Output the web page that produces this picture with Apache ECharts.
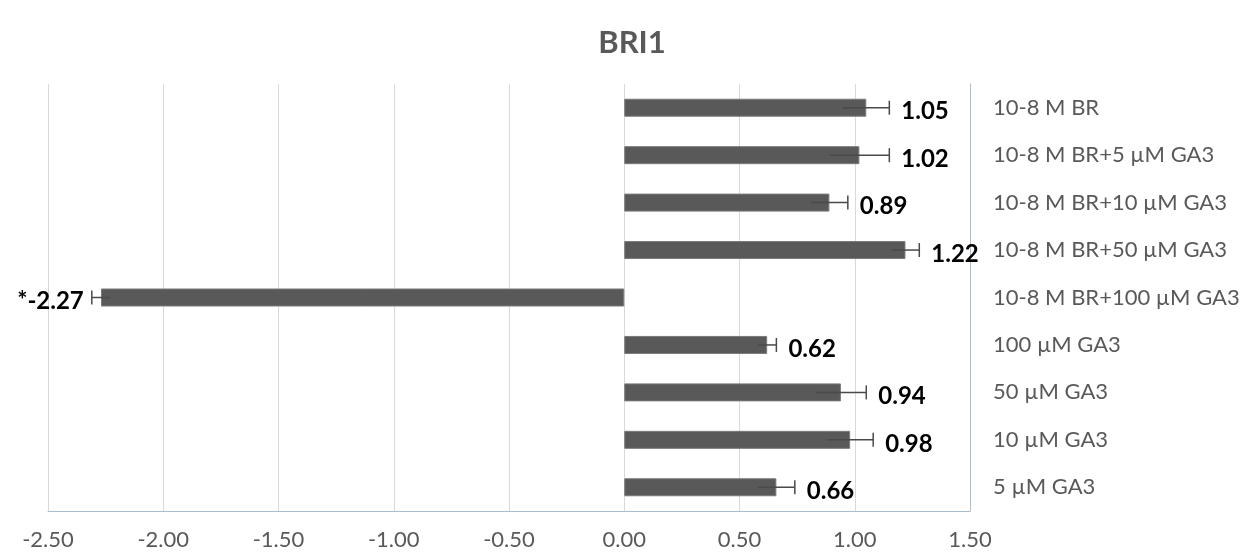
<!DOCTYPE html>
<html>
<head>
    <meta charset="utf-8">
    <title>BRI1</title>
    <script src="https://cdn.jsdelivr.net/npm/echarts@6/dist/echarts.min.js"></script>
    <style>
        html, body { margin: 0; padding: 0; background: #fff; }
    </style>
</head>
<body>
<div id="chart1" style="width: 1259px; height: 553px;"></div>
<script>
    // treatments, top to bottom
    var categories = ['10-8 M BR', '10-8 M BR+5 \u00b5M GA3', '10-8 M BR+10 \u00b5M GA3', '10-8 M BR+50 \u00b5M GA3',
        '10-8 M BR+100 \u00b5M GA3', '100 \u00b5M GA3', '50 \u00b5M GA3', '10 \u00b5M GA3', '5 \u00b5M GA3'];
    var values = [1.05, 1.02, 0.89, 1.22, -2.27, 0.62, 0.94, 0.98, 0.66];
    var errors = [0.10, 0.13, 0.08, 0.06, 0.04, 0.04, 0.11, 0.10, 0.08];
    var marks = ['', '', '', '', '*', '', '', '', ''];
    var axisMin = -2.5, axisMax = 1.5, axisStep = 0.5;

    var errData = values.map(function (v, i) {
        return [v, i, errors[i]];
    });

    var Mychart1 = echarts.init(document.getElementById('chart1'));
    var option1 = {
        animation: false,
        title: {
            text: 'BRI1',
            left: 627,
            top: 22,
            textAlign: 'center',
            textStyle: {fontFamily: 'Lato', fontSize: 31, fontWeight: 'bold', color: '#595959'}
        },
        grid: {left: 48, right: 289, top: 84, bottom: 42},
        xAxis: {
            type: 'value',
            min: axisMin,
            max: axisMax,
            interval: axisStep,
            axisLine: {show: true, onZero: false, lineStyle: {color: '#a9bfcf', width: 1}},
            axisTick: {show: false},
            splitLine: {show: true, lineStyle: {color: '#d9d9d9'}},
            axisLabel: {
                margin: 18,
                fontFamily: 'Lato',
                fontSize: 22,
                color: '#595959',
                formatter: function (v) { return v.toFixed(2); }
            }
        },
        yAxis: {
            type: 'category',
            position: 'right',
            inverse: true,
            data: categories,
            axisLine: {show: true, onZero: false, lineStyle: {color: '#a9bfcf', width: 1}},
            axisTick: {show: false},
            axisLabel: {
                margin: 23,
                align: 'left',
                fontFamily: 'Lato',
                fontSize: 22,
                color: '#595959'
            }
        },
        series: [
            {
                type: 'bar',
                data: values,
                barWidth: 18,
                itemStyle: {color: '#595959', borderColor: '#7a7a7a', borderWidth: 1}
            },
            {
                type: 'custom',
                data: errData,
                encode: {x: 0, y: 1},
                z: 5,
                renderItem: function (params, api) {
                    var v = api.value(0), i = api.value(1), e = api.value(2);
                    var neg = v < 0;
                    var outer = neg ? v - e : v + e;
                    var inner = neg ? v + e : v - e;
                    var pO = api.coord([outer, i]);
                    var pI = api.coord([inner, i]);
                    var y = pO[1];
                    var txt = marks[i] + v.toFixed(2);
                    return {
                        type: 'group',
                        children: [
                            {type: 'line', shape: {x1: pI[0], y1: y, x2: pO[0], y2: y},
                                style: {stroke: '#4a4a4a', lineWidth: 1.5}},
                            {type: 'line', shape: {x1: pO[0], y1: y - 7, x2: pO[0], y2: y + 7},
                                style: {stroke: '#4a4a4a', lineWidth: 1.5}},
                            {type: 'text', x: neg ? pO[0] - 8 : pO[0] + 12, y: y + 4,
                                style: {text: txt, fontFamily: 'Lato', fontSize: 24, fontWeight: 'bold',
                                    fill: '#000', align: neg ? 'right' : 'left', verticalAlign: 'middle'}}
                        ]
                    };
                }
            }
        ]
    };
    Mychart1.setOption(option1);
</script>
</body>
</html>
